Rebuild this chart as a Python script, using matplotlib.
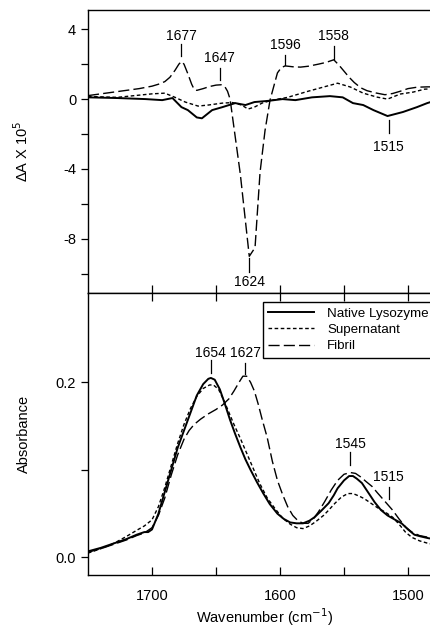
import matplotlib

matplotlib.use("Agg")
import matplotlib.pyplot as plt
from matplotlib.ticker import FixedLocator

plt.rcParams["font.family"] = ["Liberation Sans", "DejaVu Sans"]
plt.rcParams["axes.unicode_minus"] = False

# ---- top panel: difference spectra (dA x 1e5) ----
fib_top_wn = [1750, 1730, 1710, 1700, 1695, 1690, 1686, 1682, 1679, 1677, 1675, 1672, 1669,
              1667, 1665, 1660, 1655, 1650, 1646, 1643, 1641, 1639, 1631, 1624, 1619.5,
              1615.6, 1611.7, 1607.8, 1602, 1599, 1596, 1590, 1584, 1578, 1570, 1564, 1558,
              1554, 1550, 1546, 1542, 1537, 1532, 1525, 1518, 1512, 1506, 1500, 1493, 1485,
              1475]
fib_top_v = [0.2, 0.4, 0.6, 0.74, 0.85, 1.0, 1.25, 1.65, 2.0, 2.15, 2.0, 1.45, 0.85,
             0.55, 0.5, 0.6, 0.72, 0.8, 0.82, 0.7, 0.45, 0.0, -4.3, -9.0, -8.5,
             -4.2, -1.8, -0.06, 1.5, 1.8, 1.9, 1.85, 1.83, 1.88, 2.0, 2.1, 2.25,
             1.95, 1.6, 1.25, 0.95, 0.65, 0.48, 0.35, 0.25, 0.32, 0.45, 0.6, 0.68, 0.7,
             0.7]

sup_top_wn = [1750, 1727, 1700, 1690, 1682, 1674, 1664, 1656, 1645, 1637, 1630, 1625, 1620,
              1614, 1606, 1594, 1578, 1566, 1555, 1545, 1535, 1524, 1516, 1506, 1496, 1487, 1475]
sup_top_v = [0.15, 0.1, 0.3, 0.34, 0.1, -0.17, -0.4, -0.34, -0.23, -0.2, -0.34, -0.57, -0.46,
             -0.23, -0.06, 0.1, 0.45, 0.69, 0.91, 0.69, 0.34, 0.11, 0.0, 0.29, 0.4, 0.57, 0.6]

nat_top_wn = [1750, 1727, 1705, 1692, 1684, 1677, 1672, 1665, 1661, 1653, 1645, 1635, 1627,
              1620, 1609, 1598, 1588, 1575, 1561, 1551, 1543, 1535, 1527, 1516, 1504, 1493,
              1485, 1475]
nat_top_v = [0.1, 0.06, 0.0, -0.06, 0.06, -0.46, -0.63, -1.05, -1.1, -0.63, -0.46, -0.23, -0.34,
             -0.17, -0.1, 0.0, -0.06, 0.1, 0.17, 0.1, -0.23, -0.34, -0.63, -0.97, -0.74, -0.46,
             -0.23, 0.0]

# ---- bottom panel: absorbance ----
nat_wn = [1750, 1740, 1730, 1720, 1712, 1706, 1703, 1700, 1695, 1690, 1685, 1680, 1675, 1670,
          1665, 1660, 1656, 1654, 1651, 1647, 1643, 1639, 1635, 1631, 1627, 1623, 1618, 1613,
          1608, 1602, 1597, 1592, 1587, 1582, 1577, 1573, 1568, 1562, 1558, 1555, 1550, 1546,
          1543, 1540, 1536, 1531, 1526, 1521, 1516, 1510, 1505, 1500, 1495, 1490, 1484, 1475]
nat_abs = [0.007, 0.011, 0.016, 0.021, 0.026, 0.029, 0.029, 0.032, 0.05, 0.075, 0.1, 0.125,
           0.145, 0.165, 0.185, 0.198, 0.204, 0.205, 0.203, 0.192, 0.175, 0.157, 0.141, 0.126,
           0.112, 0.1, 0.086, 0.073, 0.061, 0.05, 0.044, 0.04, 0.039, 0.039, 0.042, 0.046,
           0.053, 0.062, 0.071, 0.079, 0.088, 0.093, 0.093, 0.09, 0.085, 0.074, 0.063, 0.054,
           0.048, 0.043, 0.039, 0.032, 0.026, 0.024, 0.022, 0.02]

sup_wn = [1750, 1740, 1730, 1720, 1712, 1706, 1700, 1695, 1690, 1685, 1680, 1675, 1670, 1665,
          1660, 1655, 1652, 1648, 1644, 1640, 1636, 1631, 1626, 1621, 1616, 1610, 1604, 1598,
          1592, 1587, 1582, 1577, 1572, 1566, 1562, 1557, 1552, 1547, 1543, 1538, 1534, 1529,
          1524, 1518, 1512, 1507, 1502, 1497, 1491, 1484, 1475]
sup_abs = [0.005, 0.01, 0.016, 0.024, 0.031, 0.036, 0.043, 0.058, 0.08, 0.105, 0.13, 0.152,
           0.17, 0.184, 0.193, 0.197, 0.197, 0.192, 0.18, 0.166, 0.152, 0.136, 0.119, 0.102,
           0.085, 0.068, 0.056, 0.045, 0.038, 0.034, 0.033, 0.036, 0.041, 0.048, 0.054, 0.062,
           0.069, 0.073, 0.073, 0.07, 0.067, 0.062, 0.057, 0.052, 0.046, 0.038, 0.029, 0.023,
           0.019, 0.016, 0.014]

fib_wn = [1750, 1740, 1730, 1720, 1712, 1706, 1700, 1695, 1690, 1685, 1680, 1675, 1671, 1667,
          1662, 1656, 1650, 1645, 1640, 1636, 1632, 1629, 1626, 1623, 1620, 1617, 1614, 1610,
          1606, 1602, 1598, 1594, 1590, 1586, 1582, 1578, 1574, 1570, 1565, 1560, 1555, 1550,
          1545, 1541, 1537, 1533, 1528, 1524, 1518, 1512, 1507, 1502, 1497, 1491, 1484, 1475]
fib_abs = [0.006, 0.01, 0.015, 0.02, 0.025, 0.028, 0.034, 0.048, 0.068, 0.094, 0.117, 0.135,
           0.145, 0.152, 0.158, 0.164, 0.169, 0.174, 0.181, 0.19, 0.2, 0.207, 0.207, 0.2, 0.19,
           0.175, 0.158, 0.137, 0.11, 0.088, 0.072, 0.058, 0.048, 0.042, 0.039, 0.039, 0.044,
           0.052, 0.064, 0.077, 0.088, 0.095, 0.097, 0.096, 0.092, 0.087, 0.081, 0.074, 0.064,
           0.054, 0.044, 0.035, 0.029, 0.025, 0.023, 0.021]

series_labels = ["Native Lysozyme", "Supernatant", "Fibril"]

# peak annotations: (label, text y, tick top, tick bottom)
top_peaks = [(1677, 3.63, 3.14, 2.45), (1647, 2.34, 1.77, 1.09), (1596, 3.09, 2.51, 1.94),
             (1558, 3.6, 3.03, 2.3), (1624, -10.45, -9.1, -9.9), (1515, -2.75, -1.2, -1.94)]
bot_peaks = [(1654, 0.233, 0.226, 0.211), (1627, 0.233, 0.222, 0.210),
             (1545, 0.130, 0.120, 0.106), (1515, 0.092, 0.080, 0.067)]

styles = {
    "solid": dict(color="black", lw=1.4, ls="-"),
    "dot": dict(color="black", lw=1.0, ls=(0, (2.6, 1.8))),
    "dash": dict(color="black", lw=1.0, ls=(0, (8, 3))),
}

W, H = 430, 627
fig = plt.figure(figsize=(W / 100, H / 100), dpi=100)
left = 88 / W
width = (472 - 88) / W
ax1 = fig.add_axes([left, 1 - 293 / H, width, (293 - 10) / H])
ax2 = fig.add_axes([left, 1 - 575 / H, width, (575 - 293) / H])

ax1.plot(nat_top_wn, nat_top_v, **styles["solid"])
ax1.plot(sup_top_wn, sup_top_v, **styles["dot"])
ax1.plot(fib_top_wn, fib_top_v, **styles["dash"])

ax2.plot(nat_wn, nat_abs, label=series_labels[0], **styles["solid"])
ax2.plot(sup_wn, sup_abs, label=series_labels[1], **styles["dot"])
ax2.plot(fib_wn, fib_abs, label=series_labels[2], **styles["dash"])

for ax in (ax1, ax2):
    ax.set_xlim(1750, 1450)
    for s in ax.spines.values():
        s.set_linewidth(1.0)
    ax.tick_params(axis="y", direction="out", length=5, width=0.9, labelsize=10.5)

ax1.set_ylim(-11.1, 5.1)
ax1.yaxis.set_major_locator(FixedLocator([4, 0, -4, -8]))
ax1.yaxis.set_minor_locator(FixedLocator([2, -2, -6, -10]))
ax1.tick_params(axis="y", which="minor", direction="out", length=5, width=0.9)
ax1.xaxis.set_major_locator(FixedLocator([1700, 1650, 1600, 1550, 1500]))
ax1.tick_params(axis="x", direction="in", length=6, width=0.9, labelbottom=False)
ax1.set_ylabel("ΔA X 10$^5$", fontsize=10.5)
ax1.yaxis.set_label_coords(-0.148, 0.5)

ax2.set_ylim(-0.02, 0.302)
ax2.yaxis.set_major_locator(FixedLocator([0.0, 0.2]))
ax2.yaxis.set_minor_locator(FixedLocator([0.1]))
ax2.set_yticklabels(["0.0", "0.2"])
ax2.tick_params(axis="y", which="minor", direction="out", length=5, width=0.9)
ax2.xaxis.set_major_locator(FixedLocator([1700, 1600, 1500]))
ax2.xaxis.set_minor_locator(FixedLocator([1650, 1550]))
ax2.tick_params(axis="x", which="both", direction="in", length=6, width=0.9, top=True,
                labelsize=10.5, pad=10)
ax2.set_ylabel("Absorbance", fontsize=10.5)
ax2.yaxis.set_label_coords(-0.148, 0.5)
ax2.set_xlabel("Wavenumber (cm$^{-1}$)", fontsize=10.5)
ax2.xaxis.set_label_coords((265 - 88) / (472 - 88), -0.11)

for ax, peaks in ((ax1, top_peaks), (ax2, bot_peaks)):
    for wn, ty, t0, t1 in peaks:
        ax.plot([wn, wn], [t0, t1], color="black", lw=0.9)
        ax.text(wn, ty, str(wn), ha="center", va="center", fontsize=10)

leg = ax2.legend(loc="upper left", bbox_to_anchor=((263 - 88) / (472 - 88), 0.968),
                 fontsize=9.6, handlelength=3.4, handletextpad=1.0, labelspacing=0.3,
                 borderpad=0.4, borderaxespad=0, fancybox=False, framealpha=1,
                 edgecolor="black")
leg.get_frame().set_linewidth(1.0)

fig.savefig("out.png", dpi=100)
